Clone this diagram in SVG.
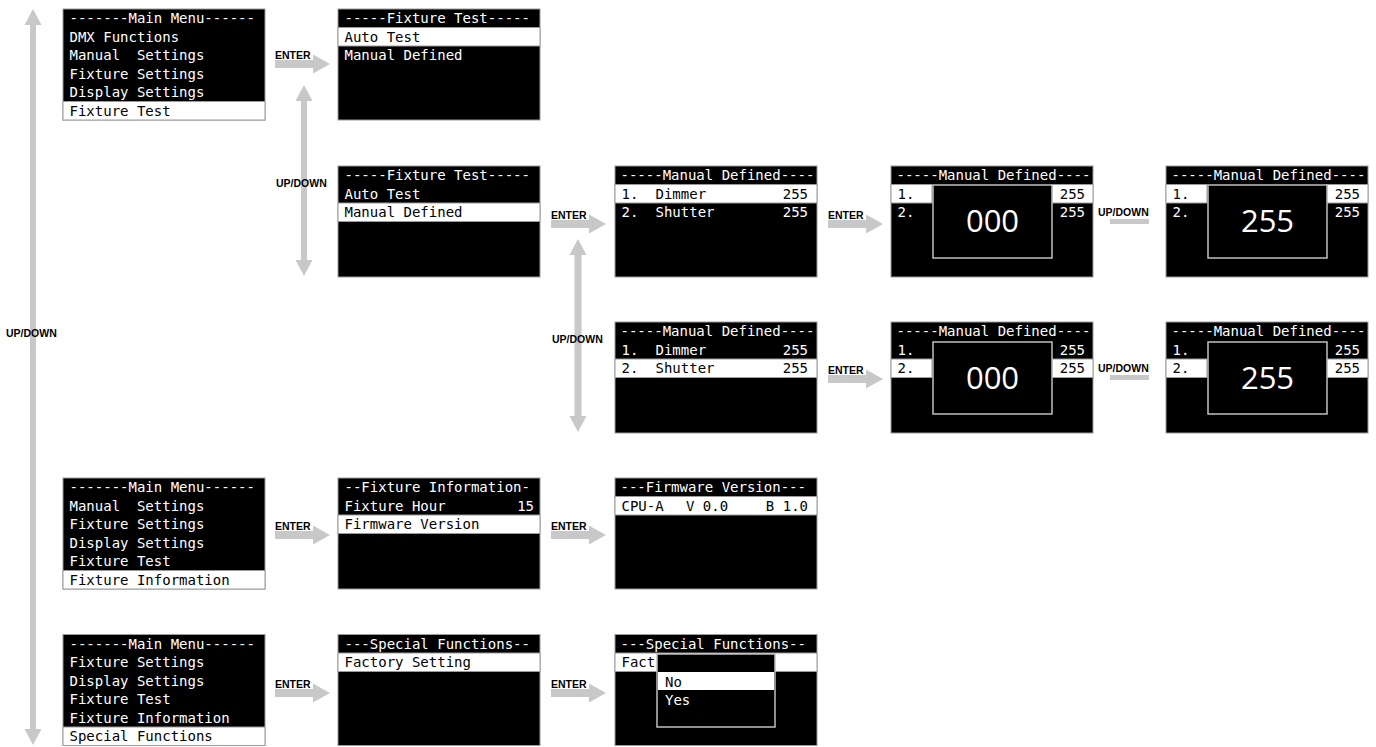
<svg xmlns="http://www.w3.org/2000/svg" width="1376" height="747" viewBox="0 0 1376 747">
<style>
.scr{fill:#000;stroke:#9a9a9a;stroke-width:1}
.sel{fill:#fff;stroke:#9a9a9a;stroke-width:1}
.inner{fill:#000;stroke:#c0c0c0;stroke-width:1.5}
.t{font-family:"DejaVu Sans Mono","Liberation Mono",monospace;font-size:14px;fill:#fff;white-space:pre}
.k{fill:#000}
.e{text-anchor:end}
.big{font-family:"Open Sans","DejaVu Sans",sans-serif;font-size:31px;fill:#fff;text-anchor:middle}
.lbl{font-family:"Liberation Sans",Arial,sans-serif;font-size:10.5px;font-weight:bold;fill:#000}
.arr{fill:#c8c8c8}
</style>
<rect width="1376" height="747" fill="#fff"/>
<g id="connectors">
<polygon class="arr" points="33,9 41.5,25 36,25 36,729 41.5,729 33,745 24.5,729 30,729 30,25 24.5,25"/>
<text class="lbl" x="6" y="337">UP/DOWN</text>
<polygon class="arr" points="304,85 312.5,101 307,101 307,260 312.5,260 304,276 295.5,260 301,260 301,101 295.5,101"/>
<text class="lbl" x="276" y="187">UP/DOWN</text>
<polygon class="arr" points="578,239 586.5,255 581.5,255 581.5,416 586.5,416 578,432 569.5,416 574.5,416 574.5,255 569.5,255"/>
<text class="lbl" x="552" y="343">UP/DOWN</text>
<polygon class="arr" points="275,60 313,60 313,54.5 330,64 313,73.5 313,68 275,68"/>
<text class="lbl" x="275" y="59">ENTER</text>
<polygon class="arr" points="551,220 589,220 589,214.5 606,224 589,233.5 589,228 551,228"/>
<text class="lbl" x="551" y="219">ENTER</text>
<polygon class="arr" points="828,220 866,220 866,214.5 883,224 866,233.5 866,228 828,228"/>
<text class="lbl" x="828" y="219">ENTER</text>
<polygon class="arr" points="828,375 866,375 866,369.5 883,379 866,388.5 866,383 828,383"/>
<text class="lbl" x="828" y="374">ENTER</text>
<polygon class="arr" points="275,531 313,531 313,525.5 330,535 313,544.5 313,539 275,539"/>
<text class="lbl" x="275" y="530">ENTER</text>
<polygon class="arr" points="551,531 589,531 589,525.5 606,535 589,544.5 589,539 551,539"/>
<text class="lbl" x="551" y="530">ENTER</text>
<polygon class="arr" points="275,689 313,689 313,683.5 330,693 313,702.5 313,697 275,697"/>
<text class="lbl" x="275" y="688">ENTER</text>
<polygon class="arr" points="551,689 589,689 589,683.5 606,693 589,702.5 589,697 551,697"/>
<text class="lbl" x="551" y="688">ENTER</text>
<rect class="arr" x="1110" y="219" width="39" height="5"/>
<text class="lbl" x="1098" y="216">UP/DOWN</text>
<rect class="arr" x="1110" y="375" width="39" height="5"/>
<text class="lbl" x="1098" y="372">UP/DOWN</text>
</g>
<g id="mainmenu1">
<rect class="scr" x="63" y="9" width="202" height="111"/>
<rect class="sel" x="63" y="101.5" width="202" height="18.5"/>
<text class="t" x="69.5" y="23">-------Main Menu------</text>
<text class="t" x="69.5" y="41.5">DMX Functions</text>
<text class="t" x="69.5" y="60">Manual  Settings</text>
<text class="t" x="69.5" y="78.5">Fixture Settings</text>
<text class="t" x="69.5" y="97">Display Settings</text>
<text class="t k" x="69.5" y="115.5">Fixture Test</text>
</g>
<g id="fixturetest1">
<rect class="scr" x="338" y="9" width="202" height="111"/>
<rect class="sel" x="338" y="27.5" width="202" height="18.5"/>
<text class="t" x="344.5" y="23">-----Fixture Test-----</text>
<text class="t k" x="344.5" y="41.5">Auto Test</text>
<text class="t" x="344.5" y="60">Manual Defined</text>
</g>
<g id="fixturetest2">
<rect class="scr" x="338" y="166" width="202" height="111"/>
<rect class="sel" x="338" y="203" width="202" height="18.5"/>
<text class="t" x="344.5" y="180">-----Fixture Test-----</text>
<text class="t" x="344.5" y="198.5">Auto Test</text>
<text class="t k" x="344.5" y="217">Manual Defined</text>
</g>
<g id="manualdefined1">
<rect class="scr" x="615" y="166" width="202" height="111"/>
<rect class="sel" x="615" y="184.5" width="202" height="18.5"/>
<text class="t" x="620.5" y="180">-----Manual Defined----</text>
<text class="t k" x="621.5" y="198.5">1.</text>
<text class="t k" x="655.5" y="198.5">Dimmer</text>
<text class="t k e" x="808" y="198.5">255</text>
<text class="t" x="621.5" y="217">2.</text>
<text class="t" x="655.5" y="217">Shutter</text>
<text class="t e" x="808" y="217">255</text>
</g>
<g id="edit1">
<rect class="scr" x="891" y="166" width="202" height="111"/>
<rect class="sel" x="891" y="184.5" width="41" height="18.5"/>
<rect class="sel" x="1052" y="184.5" width="41" height="18.5"/>
<text class="t" x="896.5" y="180">-----Manual Defined----</text>
<text class="t k" x="897.5" y="198.5">1.</text>
<text class="t k e" x="1085" y="198.5">255</text>
<text class="t" x="897.5" y="217">2.</text>
<text class="t e" x="1085" y="217">255</text>
<rect class="inner" x="933" y="185" width="119" height="73"/>
<text class="big" x="992.5" y="232">000</text>
</g>
<g id="edit2">
<rect class="scr" x="1166" y="166" width="202" height="111"/>
<rect class="sel" x="1166" y="184.5" width="41" height="18.5"/>
<rect class="sel" x="1327" y="184.5" width="41" height="18.5"/>
<text class="t" x="1171.5" y="180">-----Manual Defined----</text>
<text class="t k" x="1172.5" y="198.5">1.</text>
<text class="t k e" x="1360" y="198.5">255</text>
<text class="t" x="1172.5" y="217">2.</text>
<text class="t e" x="1360" y="217">255</text>
<rect class="inner" x="1208" y="185" width="119" height="73"/>
<text class="big" x="1267.5" y="232">255</text>
</g>
<g id="manualdefined2">
<rect class="scr" x="615" y="322" width="202" height="111"/>
<rect class="sel" x="615" y="359" width="202" height="18.5"/>
<text class="t" x="620.5" y="336">-----Manual Defined----</text>
<text class="t" x="621.5" y="354.5">1.</text>
<text class="t" x="655.5" y="354.5">Dimmer</text>
<text class="t e" x="808" y="354.5">255</text>
<text class="t k" x="621.5" y="373">2.</text>
<text class="t k" x="655.5" y="373">Shutter</text>
<text class="t k e" x="808" y="373">255</text>
</g>
<g id="edit3">
<rect class="scr" x="891" y="322" width="202" height="111"/>
<rect class="sel" x="891" y="359" width="41" height="18.5"/>
<rect class="sel" x="1052" y="359" width="41" height="18.5"/>
<text class="t" x="896.5" y="336">-----Manual Defined----</text>
<text class="t" x="897.5" y="354.5">1.</text>
<text class="t e" x="1085" y="354.5">255</text>
<text class="t k" x="897.5" y="373">2.</text>
<text class="t k e" x="1085" y="373">255</text>
<rect class="inner" x="933" y="342" width="119" height="72"/>
<text class="big" x="992.5" y="389">000</text>
</g>
<g id="edit4">
<rect class="scr" x="1166" y="322" width="202" height="111"/>
<rect class="sel" x="1166" y="359" width="41" height="18.5"/>
<rect class="sel" x="1327" y="359" width="41" height="18.5"/>
<text class="t" x="1171.5" y="336">-----Manual Defined----</text>
<text class="t" x="1172.5" y="354.5">1.</text>
<text class="t e" x="1360" y="354.5">255</text>
<text class="t k" x="1172.5" y="373">2.</text>
<text class="t k e" x="1360" y="373">255</text>
<rect class="inner" x="1208" y="342" width="119" height="72"/>
<text class="big" x="1267.5" y="389">255</text>
</g>
<g id="mainmenu2">
<rect class="scr" x="63" y="478" width="202" height="111"/>
<rect class="sel" x="63" y="570.5" width="202" height="18.5"/>
<text class="t" x="69.5" y="492">-------Main Menu------</text>
<text class="t" x="69.5" y="510.5">Manual  Settings</text>
<text class="t" x="69.5" y="529">Fixture Settings</text>
<text class="t" x="69.5" y="547.5">Display Settings</text>
<text class="t" x="69.5" y="566">Fixture Test</text>
<text class="t k" x="69.5" y="584.5">Fixture Information</text>
</g>
<g id="fixtureinfo">
<rect class="scr" x="338" y="478" width="202" height="111"/>
<rect class="sel" x="338" y="515" width="202" height="18.5"/>
<text class="t" x="344.5" y="492">--Fixture Information-</text>
<text class="t" x="344.5" y="510.5">Fixture Hour</text>
<text class="t e" x="534" y="510.5">15</text>
<text class="t k" x="344.5" y="529">Firmware Version</text>
</g>
<g id="firmware">
<rect class="scr" x="615" y="478" width="202" height="111"/>
<rect class="sel" x="615" y="496.5" width="202" height="18.5"/>
<text class="t" x="620.5" y="492">---Firmware Version---</text>
<text class="t k" x="621.5" y="510.5">CPU-A</text>
<text class="t k" x="686" y="510.5">V 0.0</text>
<text class="t k e" x="808" y="510.5">B 1.0</text>
</g>
<g id="mainmenu3">
<rect class="scr" x="63" y="634.5" width="202" height="111"/>
<rect class="sel" x="63" y="727" width="202" height="18.5"/>
<text class="t" x="69.5" y="648.5">-------Main Menu------</text>
<text class="t" x="69.5" y="667">Fixture Settings</text>
<text class="t" x="69.5" y="685.5">Display Settings</text>
<text class="t" x="69.5" y="704">Fixture Test</text>
<text class="t" x="69.5" y="722.5">Fixture Information</text>
<text class="t k" x="69.5" y="741">Special Functions</text>
</g>
<g id="special1">
<rect class="scr" x="338" y="634.5" width="202" height="111"/>
<rect class="sel" x="338" y="653" width="202" height="18.5"/>
<text class="t" x="344.5" y="648.5">---Special Functions--</text>
<text class="t k" x="344.5" y="667">Factory Setting</text>
</g>
<g id="special2">
<rect class="scr" x="615" y="634.5" width="202" height="111"/>
<rect class="sel" x="615" y="653" width="202" height="18.5"/>
<text class="t" x="620.5" y="648.5">---Special Functions--</text>
<text class="t k" x="621.5" y="667">Fact</text>
<rect class="inner" x="657" y="654" width="118" height="73"/>
<rect x="658" y="672" width="116" height="18" fill="#fff"/>
<text class="t k" x="665" y="687">No</text>
<text class="t" x="665" y="705">Yes</text>
</g>
</svg>
